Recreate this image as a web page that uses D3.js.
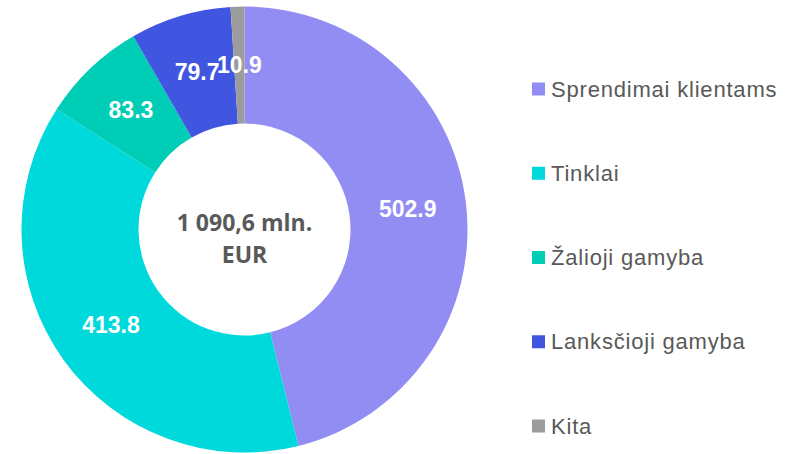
<!DOCTYPE html>
<html>
<head>
<meta charset="utf-8">
<script src="https://cdn.jsdelivr.net/npm/d3@7"></script>
<style>
  body { margin: 0; background: #fff; }
  svg { display: block; }
</style>
</head>
<body>
<svg></svg>
<script>
// chart data
let categories = ['Sprendimai klientams', 'Tinklai', 'Žalioji gamyba', 'Lanksčioji gamyba', 'Kita'];
let values = [502.9, 413.8, 83.3, 79.7, 10.9];
let colors = ['#928DF2', '#00D9DB', '#00CDB5', '#4156E0', '#9C9C9C'];
let centerLines = ['1 090,6 mln.', 'EUR'];

let width = 793;
let height = 454;
let cx = 244.5;
let cy = 229.5;
let outerR = 223;
let innerR = 106;

let svg = d3.select('svg')
    .attr('width', width)
    .attr('height', height);

let pie = d3.pie()
    .sort(null)
    .value((d) => d);

let arc = d3.arc()
    .innerRadius(innerR)
    .outerRadius(outerR);

let arcs = pie(values);

let g = svg.append('g')
    .attr('transform', 'translate(' + cx + ',' + cy + ')');

g.selectAll('path')
    .data(arcs)
    .enter()
    .append('path')
    .attr('d', arc)
    .attr('fill', (d, i) => colors[i]);

// value labels at slice centroids
g.selectAll('text.val')
    .data(arcs)
    .enter()
    .append('text')
    .attr('class', 'val')
    .attr('x', (d) => arc.centroid(d)[0])
    .attr('y', (d) => arc.centroid(d)[1])
    .attr('text-anchor', 'middle')
    .attr('dominant-baseline', 'central')
    .style('font-family', '"Liberation Sans", Arial, sans-serif')
    .style('font-weight', 'bold')
    .style('font-size', '23px')
    .attr('fill', '#fff')
    .text((d) => d.data.toFixed(1));

// center text
g.selectAll('text.center')
    .data(centerLines)
    .enter()
    .append('text')
    .attr('class', 'center')
    .attr('x', 0)
    .attr('y', (d, i) => -8 + i * 32)
    .attr('text-anchor', 'middle')
    .attr('dominant-baseline', 'central')
    .style('font-family', '"Open Sans", "Liberation Sans", sans-serif')
    .style('font-weight', 'bold')
    .style('font-size', '23px')
    .attr('fill', '#595959')
    .text((d) => d);

// legend
let legendY = d3.scalePoint()
    .domain(categories)
    .range([89, 426]);

let legend = svg.append('g');

let items = legend.selectAll('g')
    .data(categories)
    .enter()
    .append('g')
    .attr('transform', (d) => 'translate(532,' + legendY(d) + ')');

items.append('rect')
    .attr('x', 0)
    .attr('y', -6.5)
    .attr('width', 13)
    .attr('height', 13)
    .attr('fill', (d, i) => colors[i]);

items.append('text')
    .attr('x', 19)
    .attr('y', 0)
    .attr('dominant-baseline', 'central')
    .style('font-family', '"Liberation Sans", Arial, sans-serif')
    .style('font-size', '22px')
    .style('letter-spacing', '0.8px')
    .attr('fill', '#595959')
    .text((d) => d);
</script>
</body>
</html>
